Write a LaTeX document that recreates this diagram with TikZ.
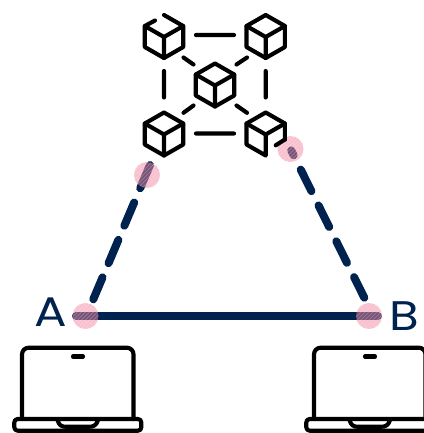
\documentclass[tikz,border=0pt]{standalone}
\usepackage{fontspec}
\setmainfont{Poppins}
\usetikzlibrary{calc}
\definecolor{navy}{HTML}{00224F}
\definecolor{rosy}{HTML}{F2829F}
\tikzset{
  gl/.style={black,line width=3.1pt,line cap=round,line join=round},
  link/.style={navy,line width=6pt,line cap=round},
  label/.style={navy,font=\fontsize{31}{31}\selectfont,inner sep=0pt,xscale=1.17},
  cube/.pic={
    \draw[gl] (0,-21) -- (19.2,-10) -- (19.2,11) -- (0,22) -- (-19.2,11) -- (-19.2,-10) -- cycle;
    \draw[gl] (-19.2,-10) -- (0,1) -- (19.2,-10) (0,1) -- (0,22);
  },
  cubeTL/.pic={
    \draw[gl] (-9,-15.5) -- (-19.2,-10) -- (-19.2,11) -- (0,22) -- (19.2,11) -- (19.2,-10) -- (0,-21);
    \draw[gl] (-19.2,-10) -- (0,1) -- (19.2,-10) (0,1) -- (0,22);
  },
  cubeBR/.pic={
    \draw[gl] (19.2,6) -- (19.2,-10) -- (0,-21) -- (-19.2,-10) -- (-19.2,11) -- (0,22) -- (0,1);
    \draw[gl] (-19.2,-10) -- (0,1) -- (19.2,-10);
    \draw[gl] (19.2,6) -- (10,11.8);
  },
  laptop/.pic={
    \draw[gl,rounded corners=5pt] (22,419) -- (22,347.7) -- (133.5,347.7) -- (133.5,419);
    \draw[gl,rounded corners=2.5pt] (14.3,419) -- (141.3,419) -- (141.3,430.7) -- (14.3,430.7) -- cycle;
    \draw[gl] (57.5,420) .. controls (59,425) and (61,426.8) .. (66,426.8) -- (89,426.8) .. controls (94,426.8) and (96.5,425) .. (98,420);
    \draw[gl] (73,356.5) -- (83,356.5);
  }
}
\newcommand{\hotspot}[1]{%
  \fill[rosy,opacity=.5] (#1) circle[radius=13];
  \begin{scope}
    \clip (#1) circle[radius=13];
    \foreach \k in {-20,-16,...,20}
      \draw[white,opacity=.22,line width=.6pt] ($(#1)+(\k-16,16)$) -- ($(#1)+(\k+16,-16)$);
  \end{scope}}
\begin{document}
\begin{tikzpicture}[x=0.75pt,y=-0.75pt]
\useasboundingbox (0,0) rectangle (424,433);
\clip (0,0) rectangle (424,433);
\fill[white] (0,0) rectangle (424,433);
% anchor points
\coordinate (pA) at (85.5,316);
\coordinate (pB) at (369,316);
\coordinate (pL) at (147,175);
\coordinate (pR) at (290.5,149);
\coordinate (aEnd) at (76,316);
\coordinate (bEnd) at (378,316);
\coordinate (lTop) at (150,165);
\coordinate (lBot) at (93.3,299.3);
\coordinate (rTop) at (291.2,150.4);
\coordinate (rBot) at (364.3,297.7);
% links
\draw[link] (aEnd) -- (bEnd);
\draw[link,dash pattern=on 18.9pt off 11.6pt] (lTop) -- (lBot);
\draw[link,dash pattern=on 18pt off 12pt,dash phase=13.9pt] (rTop) -- (rBot);
% hotspots
\hotspot{pA}
\hotspot{pB}
\hotspot{pL}
\hotspot{pR}
% labels
\node[label] (lblA) at (51,312.5) {A};
\node[label] (lblB) at (404,316) {B};
% network
\pic at (164,36) {cubeTL};
\pic at (265.7,36) {cube};
\pic at (215,84.5) {cube};
\pic at (164,133.5) {cube};
\pic at (265.7,133.5) {cubeBR};
\coordinate (h1a) at (196,35); \coordinate (h1b) at (234,35);
\coordinate (h2a) at (196,133.5); \coordinate (h2b) at (234,133.5);
\coordinate (v1a) at (164,71); \coordinate (v1b) at (164,97.5);
\coordinate (v2a) at (265.7,71); \coordinate (v2b) at (265.7,97.5);
\coordinate (d1a) at (183.5,57.5); \coordinate (d1b) at (193.5,64.5);
\coordinate (d2a) at (247,57.5); \coordinate (d2b) at (236.5,64.5);
\coordinate (d3a) at (193.5,105.5); \coordinate (d3b) at (183.5,112.8);
\coordinate (d4a) at (236.5,105.5); \coordinate (d4b) at (247,112.8);
\draw[gl] (h1a)--(h1b) (h2a)--(h2b) (v1a)--(v1b) (v2a)--(v2b) (d1a)--(d1b) (d2a)--(d2b) (d3a)--(d3b) (d4a)--(d4b);
% laptops
\pic at (0,0) {laptop};
\pic at (292,0) {laptop};
\end{tikzpicture}
\end{document}
